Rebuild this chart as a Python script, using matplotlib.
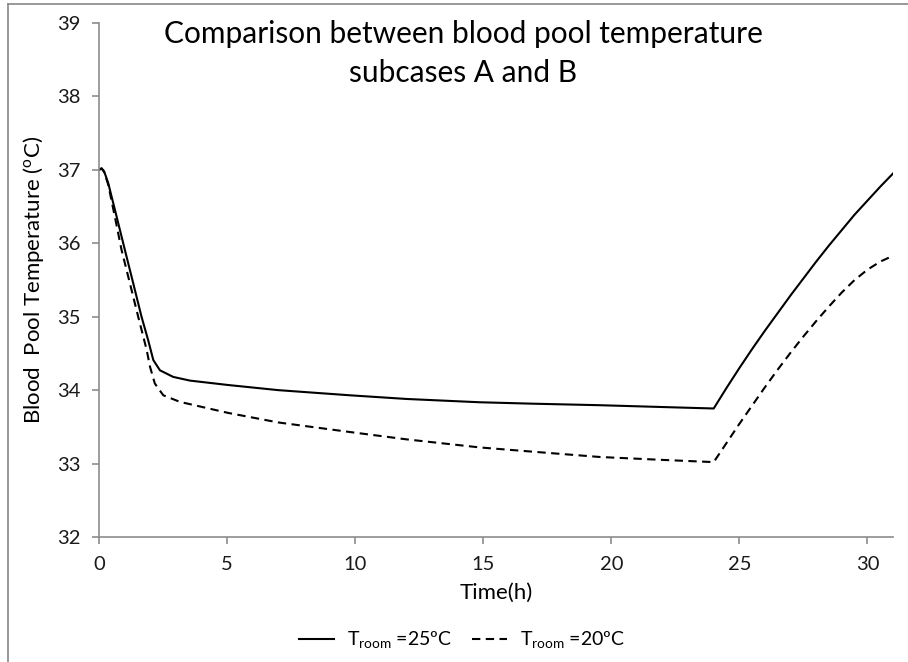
import matplotlib
matplotlib.use("Agg")
import matplotlib.pyplot as plt
from matplotlib.lines import Line2D

plt.rcParams['font.family'] = ['Lato', 'DejaVu Sans']
plt.rcParams['mathtext.fontset'] = 'custom'
plt.rcParams['mathtext.rm'] = 'Lato'
plt.rcParams['mathtext.it'] = 'Lato:italic'
plt.rcParams['mathtext.bf'] = 'Lato:bold'
plt.rcParams['mathtext.default'] = 'regular'

# Data
time_a = [0, 0.1, 0.2, 0.36, 0.69, 1.01, 1.34, 1.66, 1.92, 2.12, 2.38, 2.9, 3.55, 5.04, 7.0,
          9.79, 12.0, 14.86, 17.0, 19.54, 22.0, 24.0, 24.5, 25.0, 25.5, 26.0, 26.5, 27.0,
          27.5, 28.0, 28.5, 29.0, 29.5, 30.0, 30.5, 31.0]
temp_a = [37.0, 37.02, 36.98, 36.82, 36.36, 35.91, 35.45, 35.0, 34.68, 34.41, 34.27, 34.18,
          34.13, 34.07, 34.00, 33.93, 33.88, 33.835, 33.815, 33.795, 33.77, 33.75, 34.03,
          34.30, 34.56, 34.81, 35.05, 35.29, 35.52, 35.75, 35.97, 36.18, 36.39, 36.58,
          36.77, 36.95]
time_b = [0, 0.1, 0.2, 0.36, 0.62, 0.88, 1.21, 1.53, 1.86, 1.99, 2.18, 2.51, 3.16, 5.04, 7.0,
          9.79, 12.0, 14.86, 17.0, 19.54, 22.0, 24.0, 24.5, 25.0, 25.5, 26.0, 26.5, 27.0,
          27.5, 28.0, 28.5, 29.0, 29.5, 30.0, 30.5, 31.0]
temp_b = [37.0, 37.02, 36.97, 36.80, 36.36, 35.91, 35.45, 35.0, 34.55, 34.32, 34.09, 33.93,
          33.84, 33.69, 33.56, 33.43, 33.33, 33.22, 33.16, 33.09, 33.05, 33.02, 33.28,
          33.54, 33.79, 34.04, 34.28, 34.51, 34.73, 34.94, 35.14, 35.33, 35.50, 35.64,
          35.75, 35.83]
label_a = r"T$_{room}$ =25ºC"
label_b = r"T$_{room}$ =20ºC"
x_ticks = [0, 5, 10, 15, 20, 25, 30]
y_ticks = [32, 33, 34, 35, 36, 37, 38, 39]

W, H = 908, 662
fig = plt.figure(figsize=(W / 100, H / 100), dpi=100)
ax = fig.add_axes([99 / W, 1 - 537 / H, (893 - 99) / W, (537 - 23) / H])

l1, = ax.plot(time_a, temp_a, color='black', lw=1.5, solid_joinstyle='round')
l2, = ax.plot(time_b, temp_b, color='black', lw=1.5, dashes=(4, 2.6))

ax.set_xlim(0, 31)
ax.set_ylim(32, 39)
ax.set_xticks(x_ticks)
ax.set_yticks(y_ticks)
gray = '#8c8c8c'
for s in ['top', 'right']:
    ax.spines[s].set_visible(False)
for s in ['left', 'bottom']:
    ax.spines[s].set_color(gray)
    ax.spines[s].set_linewidth(1.2)
ax.tick_params(axis='both', direction='out', length=5, width=1.2, color=gray,
               labelsize=14.5, labelcolor='#1a1a1a')
ax.tick_params(axis='y', pad=8)
ax.tick_params(axis='x', pad=9)

ax.set_xlabel('Time(h)', fontsize=16, labelpad=7)
ax.set_ylabel('Blood  Pool Temperature ($^{o}$C)', fontsize=16, labelpad=8)

fig.text(463 / W, 1 - 43 / H, 'Comparison between blood pool temperature',
         ha='center', va='baseline', fontsize=21.5)
fig.text(463 / W, 1 - 82 / H, 'subcases A and B',
         ha='center', va='baseline', fontsize=21.5)

fig.legend([l1, l2], [label_a, label_b], loc='center', ncol=2,
           bbox_to_anchor=(462 / W, 1 - 640 / H), frameon=False, fontsize=14,
           handlelength=1.8, handletextpad=0.7, columnspacing=1.0)

# outer border
fig.add_artist(Line2D([8 / W, 1], [1 - 4 / H, 1 - 4 / H], color='#888888', lw=1.2))
fig.add_artist(Line2D([8 / W, 8 / W], [0, 1 - 4 / H], color='#888888', lw=1.2))

fig.savefig('out.png', dpi=100)
